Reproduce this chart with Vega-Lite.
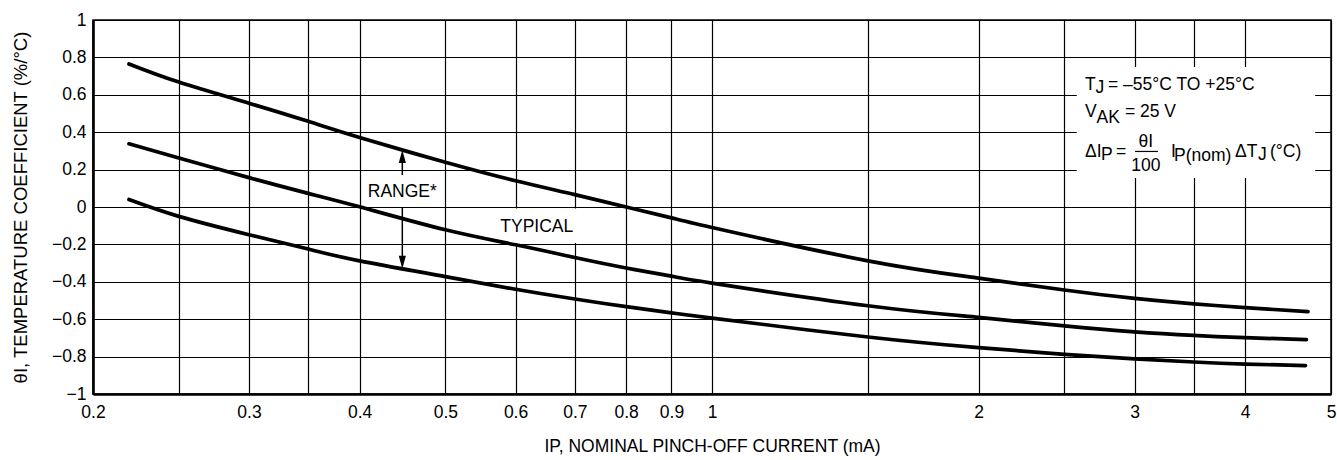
{
  "$schema": "https://vega.github.io/schema/vega-lite/v6.json",
  "width": 1238,
  "height": 374,
  "autosize": {"type": "none"},
  "padding": {"left": 93, "top": 20, "right": 6, "bottom": 66},
  "background": "white",
  "config": {
    "view": {"stroke": "black", "strokeWidth": 1.5},
    "font": "Liberation Sans",
    "text": {"font": "Liberation Sans"}
  },
  "datasets": {
    "curves": [
      {"c": "max", "x": 0.2196, "y": 0.765},
      {"c": "max", "x": 0.25, "y": 0.668},
      {"c": "max", "x": 0.3, "y": 0.555},
      {"c": "max", "x": 0.35, "y": 0.458},
      {"c": "max", "x": 0.4, "y": 0.372},
      {"c": "max", "x": 0.5, "y": 0.239},
      {"c": "max", "x": 0.6, "y": 0.14},
      {"c": "max", "x": 0.7, "y": 0.066},
      {"c": "max", "x": 0.8, "y": 0.0},
      {"c": "max", "x": 0.9, "y": -0.058},
      {"c": "max", "x": 1, "y": -0.11},
      {"c": "max", "x": 1.5, "y": -0.288},
      {"c": "max", "x": 2, "y": -0.38},
      {"c": "max", "x": 2.5, "y": -0.444},
      {"c": "max", "x": 3, "y": -0.489},
      {"c": "max", "x": 3.5, "y": -0.518},
      {"c": "max", "x": 4, "y": -0.538},
      {"c": "max", "x": 4.71, "y": -0.56},
      {"c": "typ", "x": 0.2196, "y": 0.338},
      {"c": "typ", "x": 0.25, "y": 0.262},
      {"c": "typ", "x": 0.3, "y": 0.157},
      {"c": "typ", "x": 0.35, "y": 0.073},
      {"c": "typ", "x": 0.4, "y": 0.001},
      {"c": "typ", "x": 0.5, "y": -0.122},
      {"c": "typ", "x": 0.6, "y": -0.202},
      {"c": "typ", "x": 0.7, "y": -0.27},
      {"c": "typ", "x": 0.8, "y": -0.326},
      {"c": "typ", "x": 0.9, "y": -0.37},
      {"c": "typ", "x": 1, "y": -0.407},
      {"c": "typ", "x": 1.5, "y": -0.528},
      {"c": "typ", "x": 2, "y": -0.59},
      {"c": "typ", "x": 2.5, "y": -0.636},
      {"c": "typ", "x": 3, "y": -0.668},
      {"c": "typ", "x": 3.5, "y": -0.687},
      {"c": "typ", "x": 4, "y": -0.699},
      {"c": "typ", "x": 4.69, "y": -0.709},
      {"c": "min", "x": 0.2196, "y": 0.04},
      {"c": "min", "x": 0.25, "y": -0.05},
      {"c": "min", "x": 0.3, "y": -0.148},
      {"c": "min", "x": 0.35, "y": -0.225},
      {"c": "min", "x": 0.4, "y": -0.288},
      {"c": "min", "x": 0.5, "y": -0.372},
      {"c": "min", "x": 0.6, "y": -0.44},
      {"c": "min", "x": 0.7, "y": -0.492},
      {"c": "min", "x": 0.8, "y": -0.533},
      {"c": "min", "x": 0.9, "y": -0.566},
      {"c": "min", "x": 1, "y": -0.594},
      {"c": "min", "x": 1.5, "y": -0.695},
      {"c": "min", "x": 2, "y": -0.752},
      {"c": "min", "x": 2.5, "y": -0.788},
      {"c": "min", "x": 3, "y": -0.812},
      {"c": "min", "x": 3.5, "y": -0.829},
      {"c": "min", "x": 4, "y": -0.84},
      {"c": "min", "x": 4.68, "y": -0.848}
    ],
    "boxes": [
      {"x": 2.582, "x2": 4.798, "y": 0.749, "y2": 0.155},
      {"x": 0.571, "x2": 0.705, "y": -0.008, "y2": -0.192}
    ],
    "arrows": [
      {"x": 0.447, "y": 0.27, "y2": 0.171},
      {"x": 0.447, "y": 0.0, "y2": -0.296}
    ],
    "heads": [
      {"x": 0.447, "y": 0.27, "d": "up"},
      {"x": 0.447, "y": -0.296, "d": "down"}
    ],
    "bar": [
      {"x": 3.004, "x2": 3.188, "y": 0.297}
    ],
    "leftText": [
      {"x": 2.638, "y": 0.628, "t": "T"},
      {"x": 2.71, "y": 0.607, "t": "J"},
      {"x": 2.8, "y": 0.628, "t": "= –55°C TO +25°C"},
      {"x": 2.638, "y": 0.483, "t": "V"},
      {"x": 2.718, "y": 0.448, "t": "AK"},
      {"x": 2.926, "y": 0.483, "t": "= 25 V"},
      {"x": 2.638, "y": 0.267, "t": "ΔI"},
      {"x": 2.75, "y": 0.249, "t": "P"},
      {"x": 2.859, "y": 0.267, "t": "="},
      {"x": 3.299, "y": 0.267, "t": "I"},
      {"x": 3.324, "y": 0.248, "t": "P(nom)"},
      {"x": 3.896, "y": 0.267, "t": "ΔT"},
      {"x": 4.136, "y": 0.249, "t": "J"},
      {"x": 4.266, "y": 0.267, "t": "(°C)"}
    ],
    "centerText": [
      {"x": 3.09, "y": 0.319, "t": "θI"},
      {"x": 3.09, "y": 0.193, "t": "100"},
      {"x": 0.447, "y": 0.055, "t": "RANGE*"},
      {"x": 0.634, "y": -0.133, "t": "TYPICAL"}
    ]
  },
  "encoding": {
    "x": {
      "field": "x",
      "type": "quantitative",
      "scale": {"type": "log", "domain": [0.2, 5], "nice": false},
      "axis": {
        "values": [0.2, 0.25, 0.3, 0.35, 0.4, 0.5, 0.6, 0.7, 0.8, 0.9, 1, 1.5, 2, 2.5, 3, 3.5, 4, 5],
        "labelExpr": "indexof([0.25, 0.35, 1.5, 2.5, 3.5], datum.value) >= 0 ? '' : format(datum.value, '~g')",
        "grid": true,
        "gridColor": "black",
        "gridWidth": 1.2,
        "gridOpacity": 1,
        "ticks": false,
        "domainColor": "black",
        "domainWidth": 2.6,
        "labelFont": "Liberation Sans",
        "labelFontSize": 17.5,
        "labelColor": "black",
        "labelPadding": 9,
        "labelFlush": false,
        "labelOverlap": false,
        "title": "IP, NOMINAL PINCH-OFF CURRENT (mA)",
        "titleFont": "Liberation Sans",
        "titleFontSize": 17.5,
        "titleFontWeight": "normal",
        "titleColor": "black",
        "titlePadding": 17
      }
    },
    "y": {
      "field": "y",
      "type": "quantitative",
      "scale": {"domain": [-1, 1], "nice": false, "zero": false},
      "axis": {
        "values": [-1, -0.8, -0.6, -0.4, -0.2, 0, 0.2, 0.4, 0.6, 0.8, 1],
        "format": "~g",
        "grid": true,
        "gridColor": "black",
        "gridWidth": 1.2,
        "gridOpacity": 1,
        "ticks": false,
        "domainColor": "black",
        "domainWidth": 2.6,
        "labelFont": "Liberation Sans",
        "labelFontSize": 17.5,
        "labelColor": "black",
        "labelPadding": 7,
        "labelFlush": false,
        "labelOverlap": false,
        "title": "θI, TEMPERATURE COEFFICIENT (%/°C)",
        "titleFont": "Liberation Sans",
        "titleFontSize": 18.5,
        "titleFontWeight": "normal",
        "titleColor": "black",
        "titlePadding": 21
      }
    }
  },
  "layer": [
    {
      "data": {"name": "boxes"},
      "mark": {"type": "rect", "fill": "white", "stroke": null},
      "encoding": {"x2": {"field": "x2"}, "y2": {"field": "y2"}}
    },
    {
      "data": {"name": "curves"},
      "mark": {"type": "line", "interpolate": "natural", "strokeWidth": 3.7, "color": "black", "strokeCap": "round"},
      "encoding": {"detail": {"field": "c", "type": "nominal"}}
    },
    {
      "data": {"name": "arrows"},
      "mark": {"type": "rule", "strokeWidth": 1.5, "color": "black"},
      "encoding": {"y2": {"field": "y2"}}
    },
    {
      "data": {"name": "heads"},
      "mark": {"type": "point", "filled": true, "color": "black", "size": 169, "opacity": 1, "strokeWidth": 0},
      "encoding": {
        "shape": {
          "field": "d",
          "type": "nominal",
          "scale": {"domain": ["up", "down"], "range": ["M0,-1L0.55,1L-0.55,1Z", "M0,1L0.55,-1L-0.55,-1Z"]},
          "legend": null
        }
      }
    },
    {
      "data": {"name": "bar"},
      "mark": {"type": "rule", "strokeWidth": 1.2, "color": "black"},
      "encoding": {"x2": {"field": "x2"}}
    },
    {
      "data": {"name": "leftText"},
      "mark": {"type": "text", "align": "left", "baseline": "alphabetic", "fontSize": 17.5, "color": "black", "font": "Liberation Sans"},
      "encoding": {"text": {"field": "t", "type": "nominal"}}
    },
    {
      "data": {"name": "centerText"},
      "mark": {"type": "text", "align": "center", "baseline": "alphabetic", "fontSize": 17.5, "color": "black", "font": "Liberation Sans"},
      "encoding": {"text": {"field": "t", "type": "nominal"}}
    }
  ]
}
